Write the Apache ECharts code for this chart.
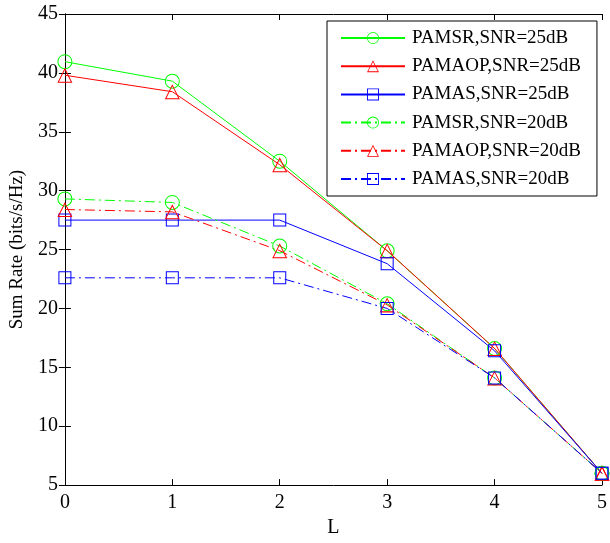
<!DOCTYPE html>
<html><head><meta charset="utf-8">
<script src="https://cdn.jsdelivr.net/npm/echarts@6/dist/echarts.min.js"></script>
<style>html,body{margin:0;padding:0;background:#fff}#c{width:610px;height:543px}</style>
</head><body><div id="c"></div>
<script>
const xValues = [0, 1, 2, 3, 4, 5];
const pamsr25 = [40.95, 39.3, 32.5, 24.9, 16.6, 6.0];
const pamaop25 = [39.8, 38.4, 32.2, 24.9, 16.6, 6.0];
const pamas25 = [27.5, 27.5, 27.5, 23.8, 16.4, 6.0];
const pamsr20 = [29.3, 29.0, 25.3, 20.4, 14.1, 6.0];
const pamaop20 = [28.4, 28.2, 24.9, 20.3, 14.1, 6.0];
const pamas20 = [22.6, 22.6, 22.6, 20.0, 14.1, 6.0];
const seriesNames = ['PAMSR,SNR=25dB','PAMAOP,SNR=25dB','PAMAS,SNR=25dB','PAMSR,SNR=20dB','PAMAOP,SNR=20dB','PAMAS,SNR=20dB'];

const font = 'Liberation Serif, Times New Roman, serif';
const dashDot = [10, 4, 2, 4];
// hollow ring symbols (1px outline) drawn as filled paths
const ringCircle = 'path://M0,-7.5A7.5,7.5 0 1,1 0,7.5A7.5,7.5 0 1,1 0,-7.5ZM0,-6.5A6.5,6.5 0 1,0 0,6.5A6.5,6.5 0 1,0 0,-6.5Z';
const ringTri = 'path://M0,-7.5L8,6.5L-8,6.5ZM0,-5.5L-6.3,5.5L6.3,5.5Z';
const ringSq = 'path://M-6.5,-6.5L6.5,-6.5L6.5,6.5L-6.5,6.5ZM-5.5,-5.5L-5.5,5.5L5.5,5.5L5.5,-5.5Z';
function mk(name, data, color, symbol, size, dashed) {
  return {
    name, type: 'line', data: xValues.map((x,i)=>[x, data[i]]),
    symbol, symbolSize: size, showSymbol: true,
    lineStyle: { color, width: 1, type: dashed ? dashDot : 'solid' },
    itemStyle: { color },
    emphasis: { disabled: true }, animation: false
  };
}
const chart = echarts.init(document.getElementById('c'), null, {renderer:'canvas'});
const axisCommon = {
  axisLine: { show: true, lineStyle: { color: '#000', width: 1 } },
  axisTick: { show: true, inside: true, length: 6, lineStyle: { color: '#000' } },
  splitLine: { show: false }
};
chart.setOption({
  backgroundColor: '#fff',
  animation: false,
  grid: { left: 62, right: 4, top: 14, bottom: 47 },
  xAxis: [
    Object.assign({ type: 'value', min: 0, max: 5, interval: 1, name: 'L', nameLocation: 'middle', nameGap: 28,
      nameTextStyle: { fontFamily: font, fontSize: 20, color: '#000' },
      axisLabel: { fontFamily: font, fontSize: 20, color: '#000', margin: 8 } }, axisCommon),
    Object.assign({ type: 'value', min: 0, max: 5, interval: 1, position: 'top', axisLabel: { show: false } }, axisCommon)
  ],
  yAxis: [
    Object.assign({ type: 'value', min: 5, max: 45, interval: 5, name: 'Sum Rate (bits/s/Hz)', nameLocation: 'middle', nameGap: 32,
      nameTextStyle: { fontFamily: font, fontSize: 19, color: '#000' },
      axisLabel: { fontFamily: font, fontSize: 20, color: '#000', margin: 7 } }, axisCommon),
    Object.assign({ type: 'value', min: 5, max: 45, interval: 5, position: 'right', axisLabel: { show: false } }, axisCommon)
  ],
  legend: {
    orient: 'vertical', left: 327, top: 21,
    data: seriesNames,
    itemWidth: 64, itemHeight: 15, itemGap: 8.2,
    padding: [7, 16, 7, 13],
    borderColor: '#000', borderWidth: 1, backgroundColor: '#fff',
    textStyle: { fontFamily: font, fontSize: 19, lineHeight: 20, color: '#000', padding: [0,0,0,2] },
    selectedMode: false
  },
  series: [
    mk(seriesNames[0], pamsr25, '#00ff00', ringCircle, 15, false),
    mk(seriesNames[1], pamaop25, '#ff0000', ringTri, 15, false),
    mk(seriesNames[2], pamas25, '#0000ff', ringSq, 13, false),
    mk(seriesNames[3], pamsr20, '#00ff00', ringCircle, 15, true),
    mk(seriesNames[4], pamaop20, '#ff0000', ringTri, 15, true),
    mk(seriesNames[5], pamas20, '#0000ff', ringSq, 13, true)
  ]
});
</script></body></html>
